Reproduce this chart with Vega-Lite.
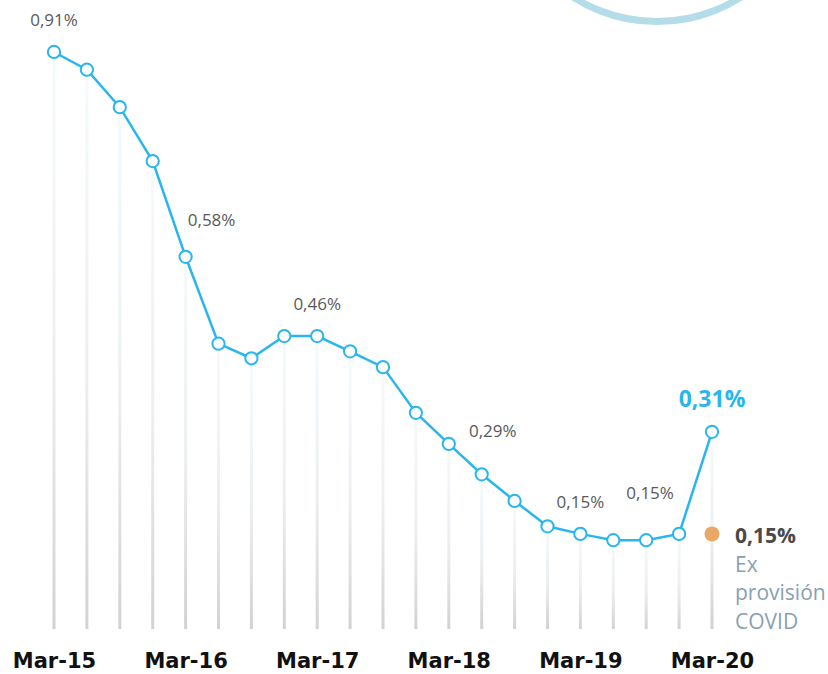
{
  "$schema": "https://vega.github.io/schema/vega-lite/v6.json",
  "width": 828,
  "height": 629,
  "padding": 0,
  "config": {"view": {"stroke": null}, "font": "Open Sans"},
  "data": {
    "values": [
      {"t": 0, "q": "Mar-15", "v": 0.91, "label": "0,91%"},
      {"t": 1, "q": "Jun-15", "v": 0.882},
      {"t": 2, "q": "Sep-15", "v": 0.823},
      {"t": 3, "q": "Dec-15", "v": 0.738},
      {"t": 4, "q": "Mar-16", "v": 0.587, "label": "0,58%"},
      {"t": 5, "q": "Jun-16", "v": 0.45},
      {"t": 6, "q": "Sep-16", "v": 0.427},
      {"t": 7, "q": "Dec-16", "v": 0.462},
      {"t": 8, "q": "Mar-17", "v": 0.462, "label": "0,46%"},
      {"t": 9, "q": "Jun-17", "v": 0.438},
      {"t": 10, "q": "Sep-17", "v": 0.413},
      {"t": 11, "q": "Dec-17", "v": 0.341},
      {"t": 12, "q": "Mar-18", "v": 0.292, "label": "0,29%"},
      {"t": 13, "q": "Jun-18", "v": 0.244},
      {"t": 14, "q": "Sep-18", "v": 0.202},
      {"t": 15, "q": "Dec-18", "v": 0.162},
      {"t": 16, "q": "Mar-19", "v": 0.15, "label": "0,15%"},
      {"t": 17, "q": "Jun-19", "v": 0.14},
      {"t": 18, "q": "Sep-19", "v": 0.14},
      {"t": 19, "q": "Dec-19", "v": 0.15, "label": "0,15%"},
      {"t": 20, "q": "Mar-20", "v": 0.311, "label": "0,31%"}
    ]
  },
  "encoding": {
    "x": {
      "field": "t",
      "type": "quantitative",
      "scale": {"domain": [-1.641, 23.526], "nice": false, "zero": false, "padding": 0},
      "axis": {
        "values": [0, 4, 8, 12, 16, 20],
        "labelExpr": "'Mar-' + (15 + datum.value / 4)",
        "ticks": false,
        "domain": false,
        "grid": false,
        "title": null,
        "labelFlush": false,
        "labelOverlap": false,
        "labelFont": "DejaVu Sans",
        "labelFontWeight": "bold",
        "labelFontSize": 21,
        "labelColor": "#111111",
        "labelPadding": 21
      }
    },
    "y": {
      "field": "v",
      "type": "quantitative",
      "scale": {"domain": [0, 0.992], "nice": false},
      "axis": null
    }
  },
  "layer": [
    {
      "data": {"values": [{"t": 18.33, "v": 1.204}]},
      "mark": {"type": "point", "shape": "circle", "size": 97344, "filled": false, "stroke": "#b5dde9", "strokeWidth": 7, "opacity": 1, "clip": true}
    },
    {
      "mark": {
        "type": "bar",
        "orient": "vertical",
        "width": 3,
        "fill": {
          "gradient": "linear",
          "x1": 0, "y1": 0, "x2": 0, "y2": 1,
          "stops": [
            {"offset": 0, "color": "#f5fafd"},
            {"offset": 0.55, "color": "#eceff1"},
            {"offset": 1, "color": "#d2d2d2"}
          ]
        }
      },
      "encoding": {"y2": {"datum": 0}}
    },
    {
      "mark": {"type": "line", "color": "#29b6ee", "strokeWidth": 2.5}
    },
    {
      "mark": {"type": "point", "shape": "circle", "filled": true, "fill": "white", "stroke": "#29b6ee", "strokeWidth": 2, "size": 150, "opacity": 1}
    },
    {
      "transform": [{"filter": "datum.t == 0 || datum.t == 8 || datum.t == 16"}],
      "mark": {"type": "text", "align": "center", "baseline": "middle", "dy": -31, "fontSize": 17, "color": "#595959"},
      "encoding": {"text": {"field": "label"}}
    },
    {
      "transform": [{"filter": "datum.t == 4"}],
      "mark": {"type": "text", "align": "center", "baseline": "middle", "dx": 26, "dy": -36, "fontSize": 17, "color": "#595959"},
      "encoding": {"text": {"field": "label"}}
    },
    {
      "transform": [{"filter": "datum.t == 12"}],
      "mark": {"type": "text", "align": "center", "baseline": "middle", "dx": 44, "dy": -12, "fontSize": 17, "color": "#595959"},
      "encoding": {"text": {"field": "label"}}
    },
    {
      "transform": [{"filter": "datum.t == 19"}],
      "mark": {"type": "text", "align": "center", "baseline": "middle", "dx": -29, "dy": -40, "fontSize": 17, "color": "#595959"},
      "encoding": {"text": {"field": "label"}}
    },
    {
      "transform": [{"filter": "datum.t == 20"}],
      "mark": {"type": "text", "align": "center", "baseline": "middle", "dy": -32, "fontSize": 23, "fontWeight": "bold", "color": "#29b6ee"},
      "encoding": {"text": {"field": "label"}}
    },
    {
      "data": {"values": [{"t": 20, "v": 0.15, "label": "0,15%", "note": "Ex provisión COVID"}]},
      "layer": [
        {"mark": {"type": "point", "shape": "circle", "filled": true, "color": "#eaa866", "size": 225, "opacity": 1}},
        {
          "mark": {"type": "text", "align": "left", "baseline": "middle", "dx": 23, "dy": 3, "fontSize": 21, "fontWeight": "bold", "color": "#4a4a4a"},
          "encoding": {"text": {"field": "label"}}
        },
        {
          "mark": {"type": "text", "align": "left", "baseline": "top", "dx": 23, "dy": 21, "fontSize": 21, "lineHeight": 28.5, "lineBreak": " ", "color": "#8a9fb2"},
          "encoding": {"text": {"field": "note"}}
        }
      ]
    }
  ]
}
